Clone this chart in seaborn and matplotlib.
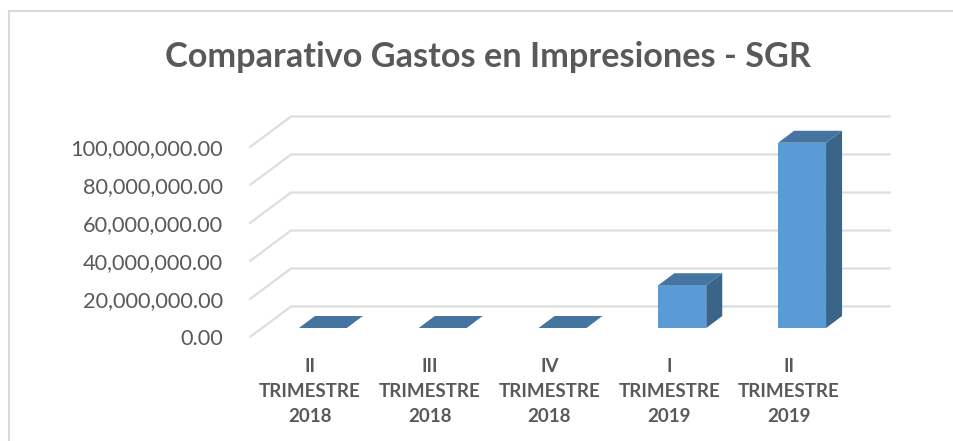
import matplotlib
matplotlib.use('Agg')
import matplotlib.pyplot as plt
from matplotlib.patches import Polygon
from matplotlib.transforms import Affine2D
import seaborn as sns
import pandas as pd

categories = ['II\nTRIMESTRE\n2018', 'III\nTRIMESTRE\n2018', 'IV\nTRIMESTRE\n2018',
              'I\nTRIMESTRE\n2019', 'II\nTRIMESTRE\n2019']
gastos = [0, 0, 0, 22500000, 97500000]
y_ticks = [0, 20000000, 40000000, 60000000, 80000000, 100000000]
title = 'Comparativo Gastos en Impresiones - SGR'

W, H = 954, 441
sns.set_theme(style='white')
plt.rcParams['font.family'] = ['Lato', 'DejaVu Sans']

fig = plt.figure(figsize=(W / 100, H / 100), dpi=100)
ax = fig.add_axes([250 / W, 1 - 337 / H, 599 / W, 190 / H])

df = pd.DataFrame({'periodo': categories, 'gasto': gastos})
sns.barplot(data=df, x='periodo', y='gasto', color='#5B9BD5', saturation=1, width=0.4,
            edgecolor='none', linewidth=0, ax=ax)
ax.set_xlim(-0.5, 4.5)
ax.set_ylim(0, 100000000)
ax.set_xlabel('')
ax.set_ylabel('')
ax.set_yticks(y_ticks)
ax.set_yticklabels([f'{v:,.2f}' for v in y_ticks], fontsize=15.7, color='#595959')
ax.tick_params(axis='y', length=0, pad=19.5)
ax.tick_params(axis='x', length=0, pad=15)
for lab in ax.get_xticklabels():
    lab.set_fontsize(13.5)
    lab.set_fontweight('bold')
    lab.set_color('#595959')
    lab.set_linespacing(1.58)
sns.despine(ax=ax, left=True, bottom=True, top=True, right=True)

fig.canvas.draw()
to_px = ax.transData

# gridlines: floor/wall perspective, in pixel offsets from the front plane
wall_dx, wall_dy = 41, 30.5
for v in y_ticks:
    x0, y0 = to_px.transform((-0.5, v))
    x1, y1 = to_px.transform((4.5, v))
    fig.add_artist(plt.Line2D([x0, x0 + wall_dx, x1 + wall_dx], [y0, y0 + wall_dy, y1 + wall_dy],
                              transform=None, color='#DEDEDE', lw=1.6, zorder=0.5))

# 3d faces of each bar
shift_x, shift_y = 13, 9
depth_x, depth_y = 16, 12
shift = Affine2D().translate(shift_x, shift_y)
for bar in ax.patches:
    bar.set_transform(to_px + shift)
    bar.set_zorder(3)
    bar.set_clip_on(False)
    (l, b) = to_px.transform((bar.get_x(), bar.get_y()))
    (r, t) = to_px.transform((bar.get_x() + bar.get_width(), bar.get_height()))
    l, r = l + shift_x, r + shift_x
    b, t = b + shift_y, t + shift_y
    top = [(l, t), (r, t), (r + depth_x, t + depth_y), (l + depth_x, t + depth_y)]
    side = [(r, b), (r + depth_x, b + depth_y), (r + depth_x, t + depth_y), (r, t)]
    fig.add_artist(Polygon(side, transform=None, facecolor='#3A6488', edgecolor='none', zorder=2))
    fig.add_artist(Polygon(top, transform=None, facecolor='#44749F', edgecolor='none', zorder=2))

ax.patch.set_visible(False)
ax.set_zorder(3)

# chart border, only top and left are in frame
border_x = [9.5 / W, 9.5 / W, 1]
border_y = [0, 1 - 11 / H, 1 - 11 / H]
fig.add_artist(plt.Line2D(border_x, border_y, transform=fig.transFigure, color='#D9D9D9', lw=1.5, zorder=0))

fig.text(488 / W, 1 - 57 / H, title, ha='center', va='center', fontsize=24.7, fontweight='bold', color='#595959')

fig.savefig('out.png', dpi=100)
